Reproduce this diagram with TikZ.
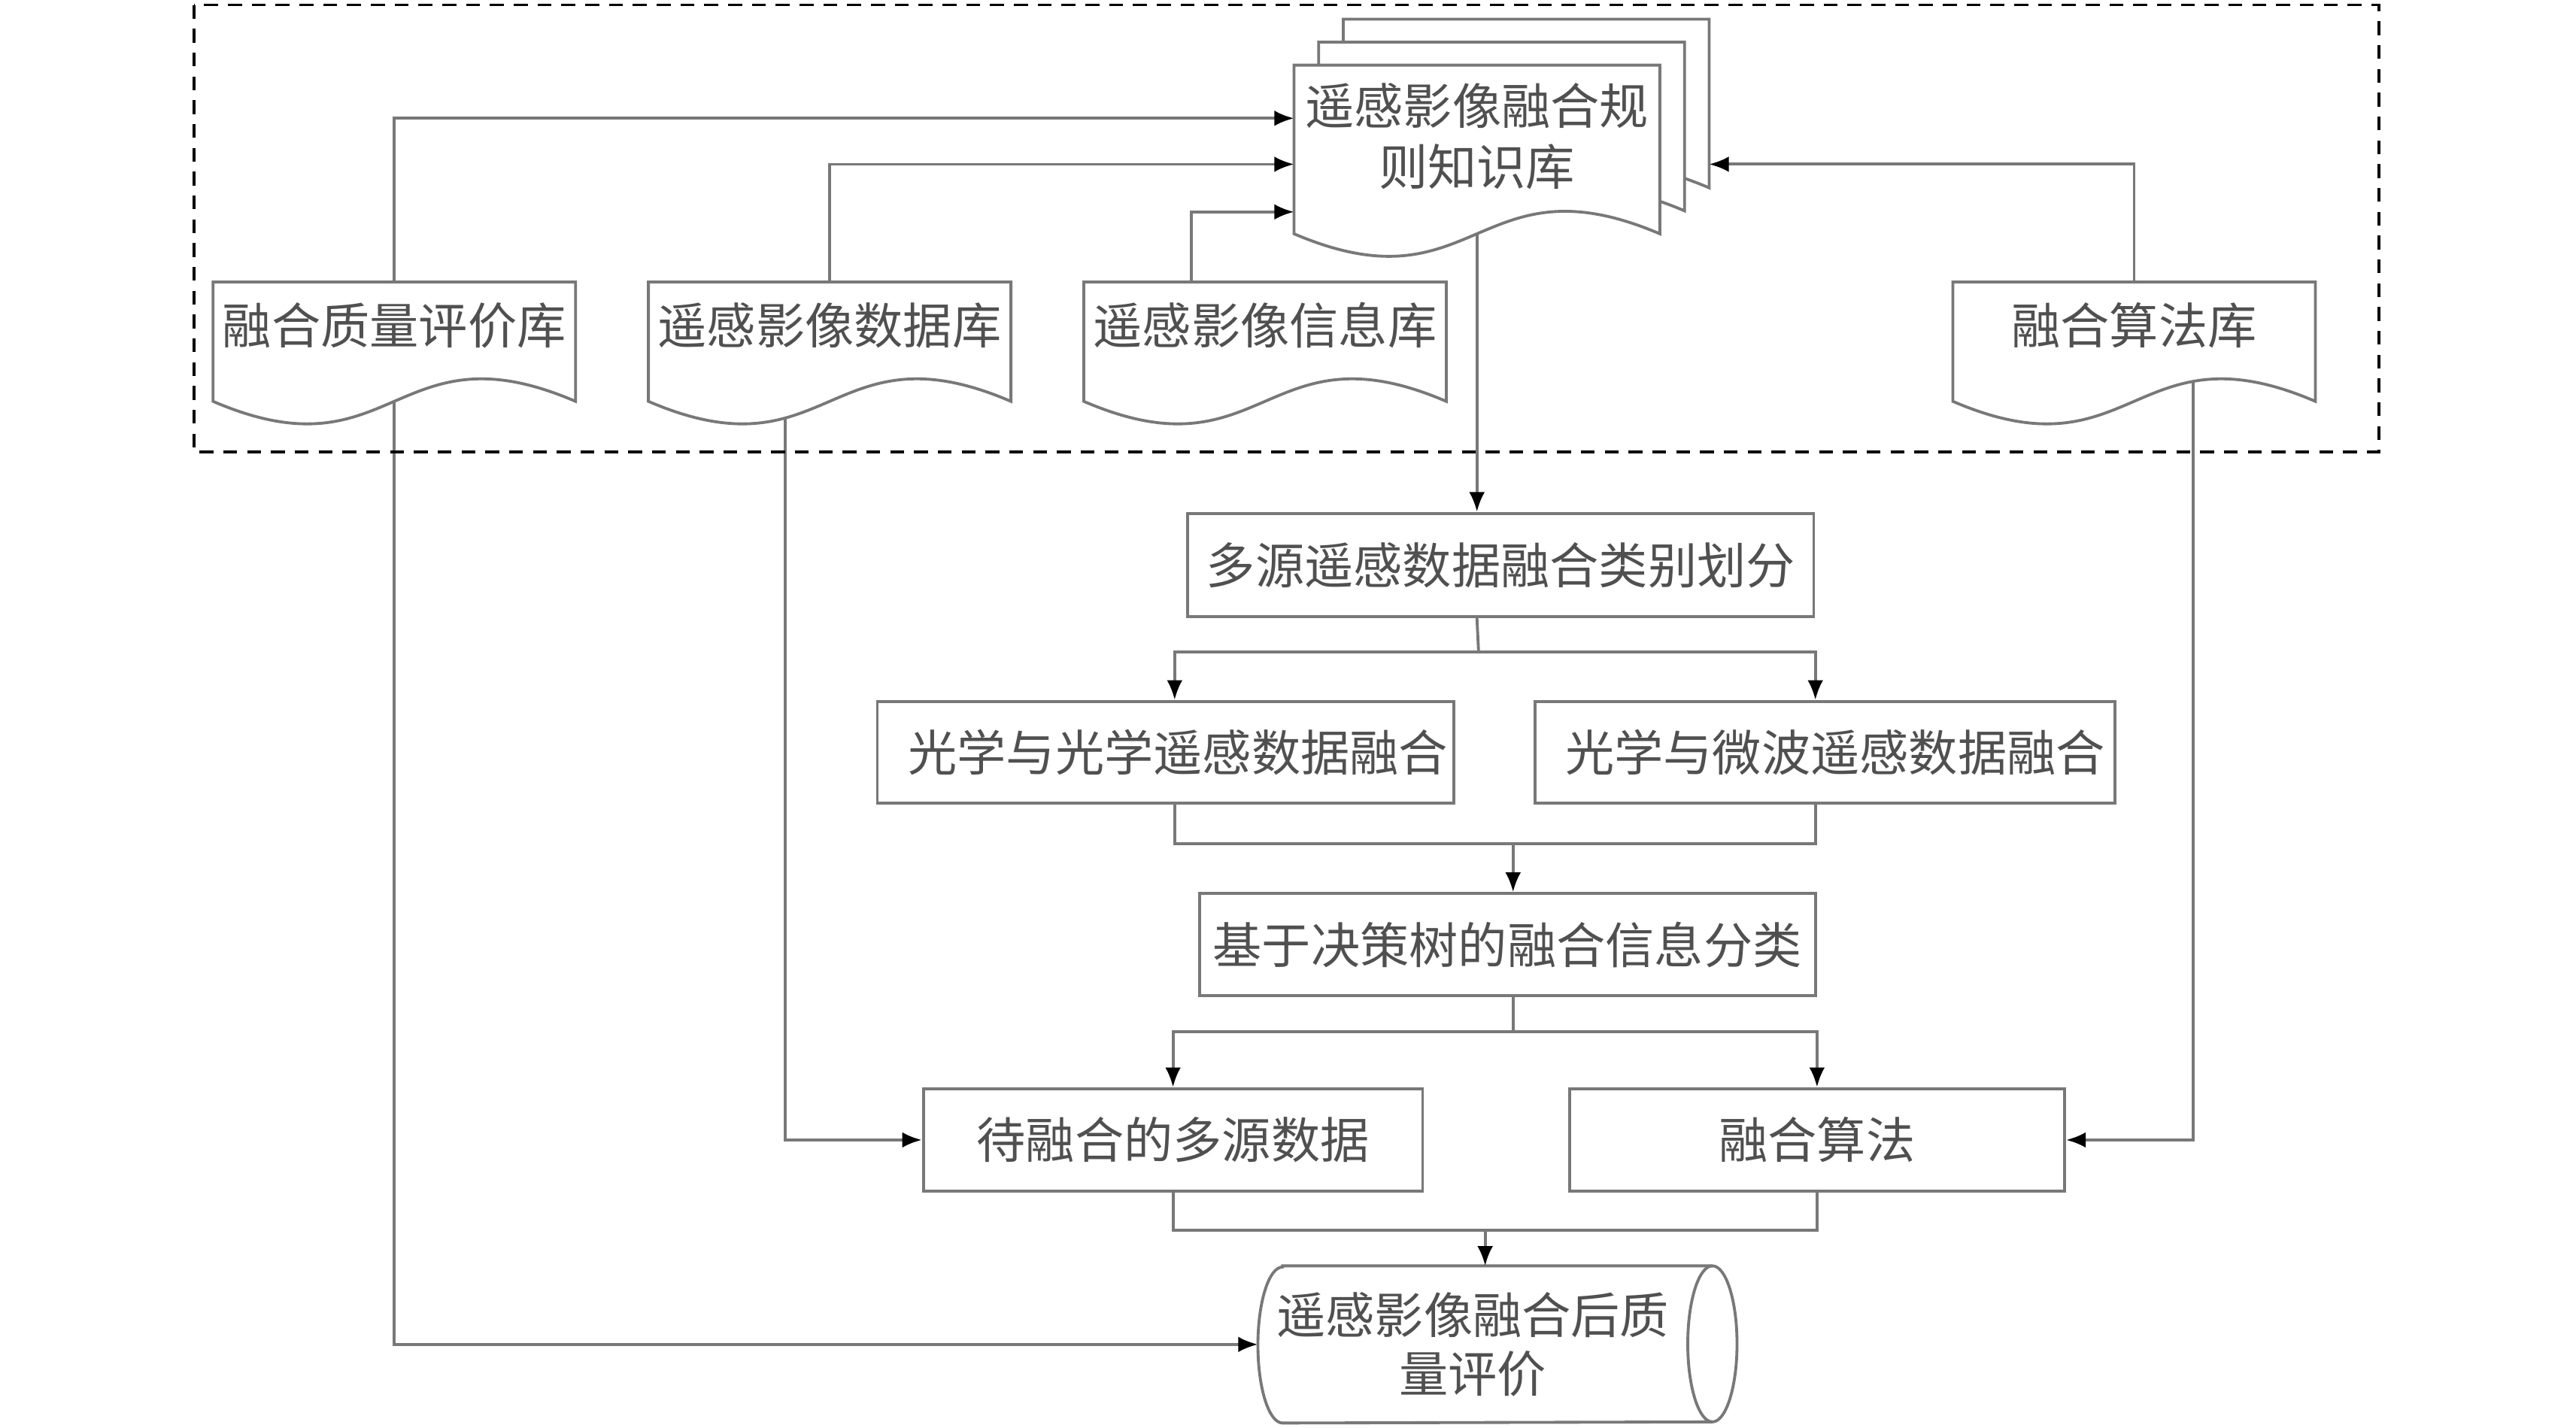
\documentclass[tikz,border=0pt]{standalone}
\usepackage{fontspec}
\newfontfamily\cjk{Noto Sans CJK SC}
\usetikzlibrary{arrows.meta,calc}
\pgfdeclarelayer{bg}\pgfdeclarelayer{mid}
\pgfsetlayers{bg,mid,main}
\definecolor{lc}{RGB}{120,120,120}
\definecolor{tc}{RGB}{80,80,80}
\newcommand{\docpath}[4]{%
  \path[docsty] (#1.north west) -- (#1.north east) -- ([yshift=-#2]#1.south east)
   .. controls ([yshift=#3]#1.south) and ([yshift=-#4]#1.south) .. ([yshift=-#2]#1.south west) -- cycle;}
\tikzset{
  ln/.style={draw=lc, line width=1pt},
  arr/.style={ln, -{Latex[length=2.4mm,width=1.9mm,color=black]}},
  txt/.style={text=tc, font=\cjk\fontsize{17pt}{21pt}\selectfont, inner sep=0pt, align=center},
  box/.style={txt, draw=lc, line width=1pt, fill=white},
  doctxt/.style={txt, minimum width=4.4cm, minimum height=1.04cm},
  kbtxt/.style={txt, minimum width=4.44cm, minimum height=1.72cm},
  docsty/.style={draw=lc, line width=1pt, fill=white},
  grp/.style={draw=black, line width=1pt, dash pattern=on 0.17cm off 0.12cm}
}
\begin{document}
\begin{tikzpicture}[x=0.02cm,y=-0.02cm]
\useasboundingbox (0,0) rectangle (1568,869);
% group frame
\draw[grp] (118,3) rectangle (1448,275);
% knowledge base (stacked documents)
\node[kbtxt] (kb3) at (929,55) {};
\node[kbtxt] (kb2) at (914,69) {};
\node[kbtxt, text=tc] (kb) at (899,83) {\baselineskip=0.76cm 遥感影像融合规\\则知识库};
% libraries
\node[doctxt] (qlib) at (240,198) {融合质量评价库};
\node[doctxt] (dlib) at (505,198) {遥感影像数据库};
\node[doctxt] (ilib) at (770,198) {遥感影像信息库};
\node[doctxt] (alib) at (1299,198) {融合算法库};
% process boxes
\node[box, minimum width=7.62cm, minimum height=1.26cm] (mclass) at (913.5,344) {多源遥感数据融合类别划分};
\node[box, minimum width=7.02cm, minimum height=1.24cm] (oo) at (709.5,458) {\hspace*{0.3cm}光学与光学遥感数据融合};
\node[box, minimum width=7.06cm, minimum height=1.24cm] (om) at (1111,458) {\hspace*{0.24cm}光学与微波遥感数据融合};
\node[box, minimum width=7.5cm, minimum height=1.24cm] (dt) at (917.5,575) {基于决策树的融合信息分类};
\node[box, minimum width=6.08cm, minimum height=1.25cm] (wait) at (714,694) {待融合的多源数据};
\node[box, minimum width=6.03cm, minimum height=1.25cm] (alg) at (1106,694) {融合算法};
\node[txt, minimum width=5.22cm, minimum height=1.9cm] (cyl) at (896.5,818.5) {遥感影像融合后质\\[-0.02cm]量评价};
% helper coordinates
\coordinate (s1) at (900,397);
\coordinate (j1) at (921,513.5);
\coordinate (s2) at (921,628);
\coordinate (j3) at (904,749);
% shapes
\begin{pgfonlayer}{mid}
  \docpath{kb3}{0.32cm}{0.63cm}{1.27cm}
  \docpath{kb2}{0.32cm}{0.63cm}{1.27cm}
  \docpath{kb}{0.32cm}{0.63cm}{1.27cm}
  \docpath{qlib}{0.4cm}{0.55cm}{1.35cm}
  \docpath{dlib}{0.4cm}{0.55cm}{1.35cm}
  \docpath{ilib}{0.4cm}{0.55cm}{1.35cm}
  \docpath{alib}{0.4cm}{0.55cm}{1.35cm}
  \path[docsty] ([xshift=0.3cm]cyl.north west) -- ([xshift=0.3cm]cyl.north east)
     arc[start angle=90, end angle=-90, x radius=0.3cm, y radius=0.95cm]
     -- ([xshift=0.3cm]cyl.south west)
     arc[start angle=270, end angle=90, x radius=0.3cm, y radius=0.95cm] -- cycle;
  \draw[ln] ([xshift=0.3cm]cyl.north east) arc[start angle=90, end angle=270, x radius=0.3cm, y radius=0.95cm];
\end{pgfonlayer}
% connectors into knowledge base
\draw[arr] (qlib.north) |- ([yshift=0.22cm]kb.west);
\draw[arr] (dlib.north) |- ([yshift=-0.34cm]kb.west);
\draw[arr] ([xshift=-0.9cm]ilib.north) |- ([yshift=-0.92cm]kb.west);
\draw[arr] (alib.north) |- ([yshift=-0.9cm]kb3.east);
% main flow
\begin{pgfonlayer}{bg}
  \draw[arr] (kb.center) -- (kb.center |- mclass.north);
  \draw[arr] (qlib.center) |- (cyl.west);
  \draw[arr] ([xshift=-0.54cm]dlib.center) |- (wait.west);
  \draw[arr] ([xshift=0.72cm]alib.center) |- (alg.east);
\end{pgfonlayer}
\draw[ln] (kb.center |- mclass.south) -- (s1);
\draw[arr] (s1) -| ([xshift=0.11cm]oo.north);
\draw[arr] (s1) -| ([xshift=-0.12cm]om.north);
\draw[ln] ([xshift=0.11cm]oo.south) |- (j1);
\draw[ln] ([xshift=-0.12cm]om.south) |- (j1);
\draw[arr] (j1) -- (j1 |- dt.north);
\draw[ln] (j1 |- dt.south) -- (s2);
\draw[arr] (s2) -| (wait.north);
\draw[arr] (s2) -| (alg.north);
\draw[ln] (wait.south) |- (j3);
\draw[ln] (alg.south) |- (j3);
\draw[arr] (j3) -- (j3 |- cyl.north);
\end{tikzpicture}
\end{document}
